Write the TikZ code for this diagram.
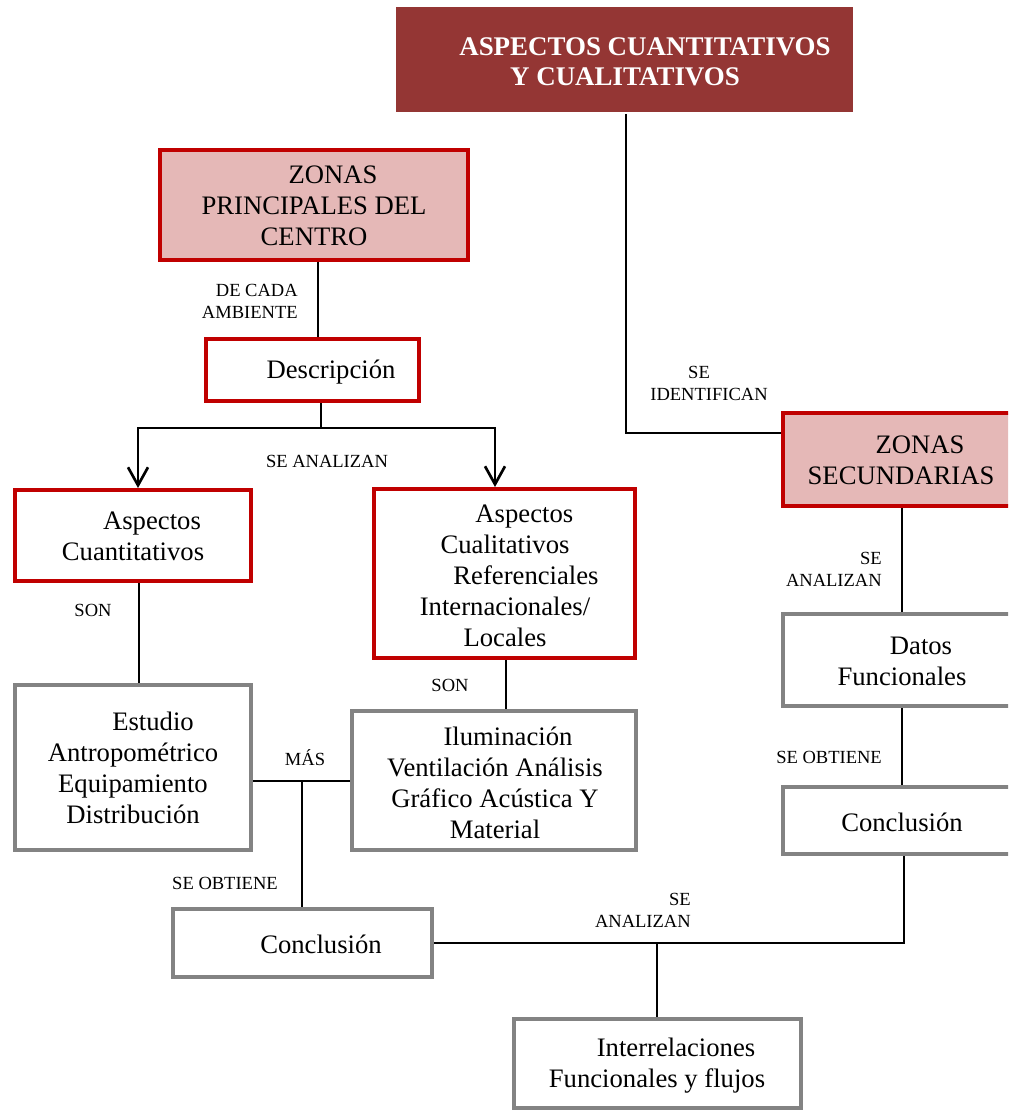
\documentclass[tikz,border=0pt]{standalone}
\usepackage{fontspec}
\setmainfont{Liberation Serif}
\usetikzlibrary{arrows.meta,calc}
\definecolor{headred}{HTML}{943634}
\definecolor{zonepink}{HTML}{E5B8B7}
\definecolor{edgered}{HTML}{C00000}
\definecolor{edgegrey}{HTML}{838383}

\begin{document}
\begin{tikzpicture}[x=0.75pt,y=-0.75pt,
  sz/.style n args={2}{minimum width={#1*0.75pt},minimum height={#2*0.75pt}},
  boxframe/.style={rectangle,inner sep=0pt,line width=3pt},
  headbox/.style={boxframe,fill=headred,draw=none},
  zonebox/.style={boxframe,fill=zonepink,draw=edgered},
  redbox/.style={boxframe,fill=white,draw=edgered},
  greybox/.style={boxframe,fill=white,draw=edgegrey},
  boxtext/.style={align=center,inner sep=0pt,font=\fontsize{20}{23.25}\selectfont},
  headtext/.style={align=center,inner sep=0pt,text=white,font=\fontsize{20.2}{22.5}\selectfont\bfseries},
  lbl/.style={inner sep=0pt,font=\fontsize{13.9}{16.5}\selectfont},
  conn/.style={line width=2pt},
  arrowconn/.style={conn,-{Straight Barb[length=13.5pt,width=15pt,line width=2pt]}}
]
\useasboundingbox (0,0) rectangle (1008,1112);
\clip (0,0) rectangle (1008,1112);

% ---- boxes ----
\node[headbox,sz={457}{105}] (head) at (624.5,59.5) {};
\node[zonebox,sz={308}{110}] (zp) at (314,205) {};
\node[redbox,sz={213}{62}] (desc) at (312.5,370) {};
\node[redbox,sz={236}{91}] (acuan) at (133,535.5) {};
\node[redbox,sz={261}{169}] (acual) at (504.5,573.5) {};
\node[greybox,sz={236}{165}] (estudio) at (133,767.5) {};
\node[greybox,sz={284}{139}] (ilum) at (494,780.5) {};
\node[greybox,sz={259}{68}] (concl) at (302.5,943) {};
\node[greybox,sz={287}{89}] (inter) at (657.5,1063.5) {};
\node[zonebox,sz={250}{93}] (zs) at (908,459.5) {};
\node[greybox,sz={250}{92}] (datos) at (908,660) {};
\node[greybox,sz={250}{67}] (concr) at (908,820.5) {};

% ---- box texts ----
\node[headtext] (head-t) at (625,62) {\hspace*{30pt}ASPECTOS CUANTITATIVOS\\Y CUALITATIVOS};
\node[boxtext] (zp-t) at (314,206) {\hspace*{28.5pt}ZONAS\\PRINCIPALES DEL\\CENTRO};
\node[boxtext] (desc-t) at (331,372) {Descripción};
\node[boxtext] (acuan-t) at (133,536) {\hspace*{28.5pt}Aspectos\\Cuantitativos};
\node[boxtext] (acual-t) at (505,576) {\hspace*{29pt}Aspectos\\Cualitativos\\\hspace*{31.5pt}Referenciales\\Internacionales/\\Locales};
\node[boxtext] (estudio-t) at (133,768) {\hspace*{30pt}Estudio\\Antropométrico\\Equipamiento\\Distribución};
\node[boxtext] (ilum-t) at (495,783) {\hspace*{19.5pt}Iluminación\\Ventilación Análisis\\Gráfico Acústica Y\\Material};
\node[boxtext] (concl-t) at (321,944) {Conclusión};
\node[boxtext] (inter-t) at (657,1066) {\hspace*{28.5pt}Interrelaciones\\Funcionales y flujos};
\node[boxtext] (zs-t) at (901,460.5) {\hspace*{28.5pt}ZONAS\\SECUNDARIAS};
\node[boxtext] (datos-t) at (902,661.5) {\hspace*{28.5pt}Datos\\Funcionales};
\node[boxtext] (concr-t) at (902,822) {Conclusión};

% ---- connectors ----
\coordinate (idbend) at (626,433);
\draw[conn] (idbend |- head.south) -- (idbend) -- (zs.west |- idbend);

\coordinate (zpx) at (318,0);
\draw[conn] (zpx |- zp.south) -- (zpx |- desc.north);

\coordinate (split) at (321,428);
\coordinate (aleft) at (138,428);
\coordinate (aright) at (495,428);
\draw[conn] (split |- desc.south) -- (split);
\draw[arrowconn] (split) -- (aleft) -- (aleft |- acuan.north);
\draw[arrowconn] (split) -- (aright) -- (aright |- acual.north);

\coordinate (acx) at (139,0);
\draw[conn] (acx |- acuan.south) -- (acx |- estudio.north);
\coordinate (aqx) at (506,0);
\draw[conn] (aqx |- acual.south) -- (aqx |- ilum.north);

\coordinate (masy) at (0,781);
\coordinate (masj) at (302,781);
\draw[conn] (estudio.east |- masy) -- (ilum.west |- masy);
\draw[conn] (masj) -- (masj |- concl.north);

\coordinate (bend) at (904,943);
\coordinate (intj) at (657,943);
\draw[conn] (concl.east |- bend) -- (bend) -- (bend |- concr.south);
\draw[conn] (intj) -- (intj |- inter.north);

\coordinate (rx) at (902,0);
\draw[conn] (rx |- zs.south) -- (rx |- datos.north);
\draw[conn] (rx |- datos.south) -- (rx |- concr.north);

% ---- connector labels ----
\node[lbl,align=right,anchor=east] (l-cada) at (298,301) {DE CADA\\AMBIENTE};
\node[lbl] (l-anal1) at (327,461) {SE ANALIZAN};
\node[lbl] (l-son1) at (93,610) {SON};
\node[lbl] (l-son2) at (450,685) {SON};
\node[lbl] (l-mas) at (305,758) {MÁS};
\node[lbl] (l-obt1) at (225,883) {SE OBTIENE};
\node[lbl,align=right,anchor=east] (l-anal2) at (691,910) {SE\\ANALIZAN};
\node[lbl,align=center] (l-ident) at (709,383) {SE\hspace*{15pt}\\IDENTIFICAN};
\node[lbl,align=right,anchor=east] (l-anal3) at (882,569) {SE\\ANALIZAN};
\node[lbl] (l-obt2) at (829,757) {SE OBTIENE};
\end{tikzpicture}
\end{document}
